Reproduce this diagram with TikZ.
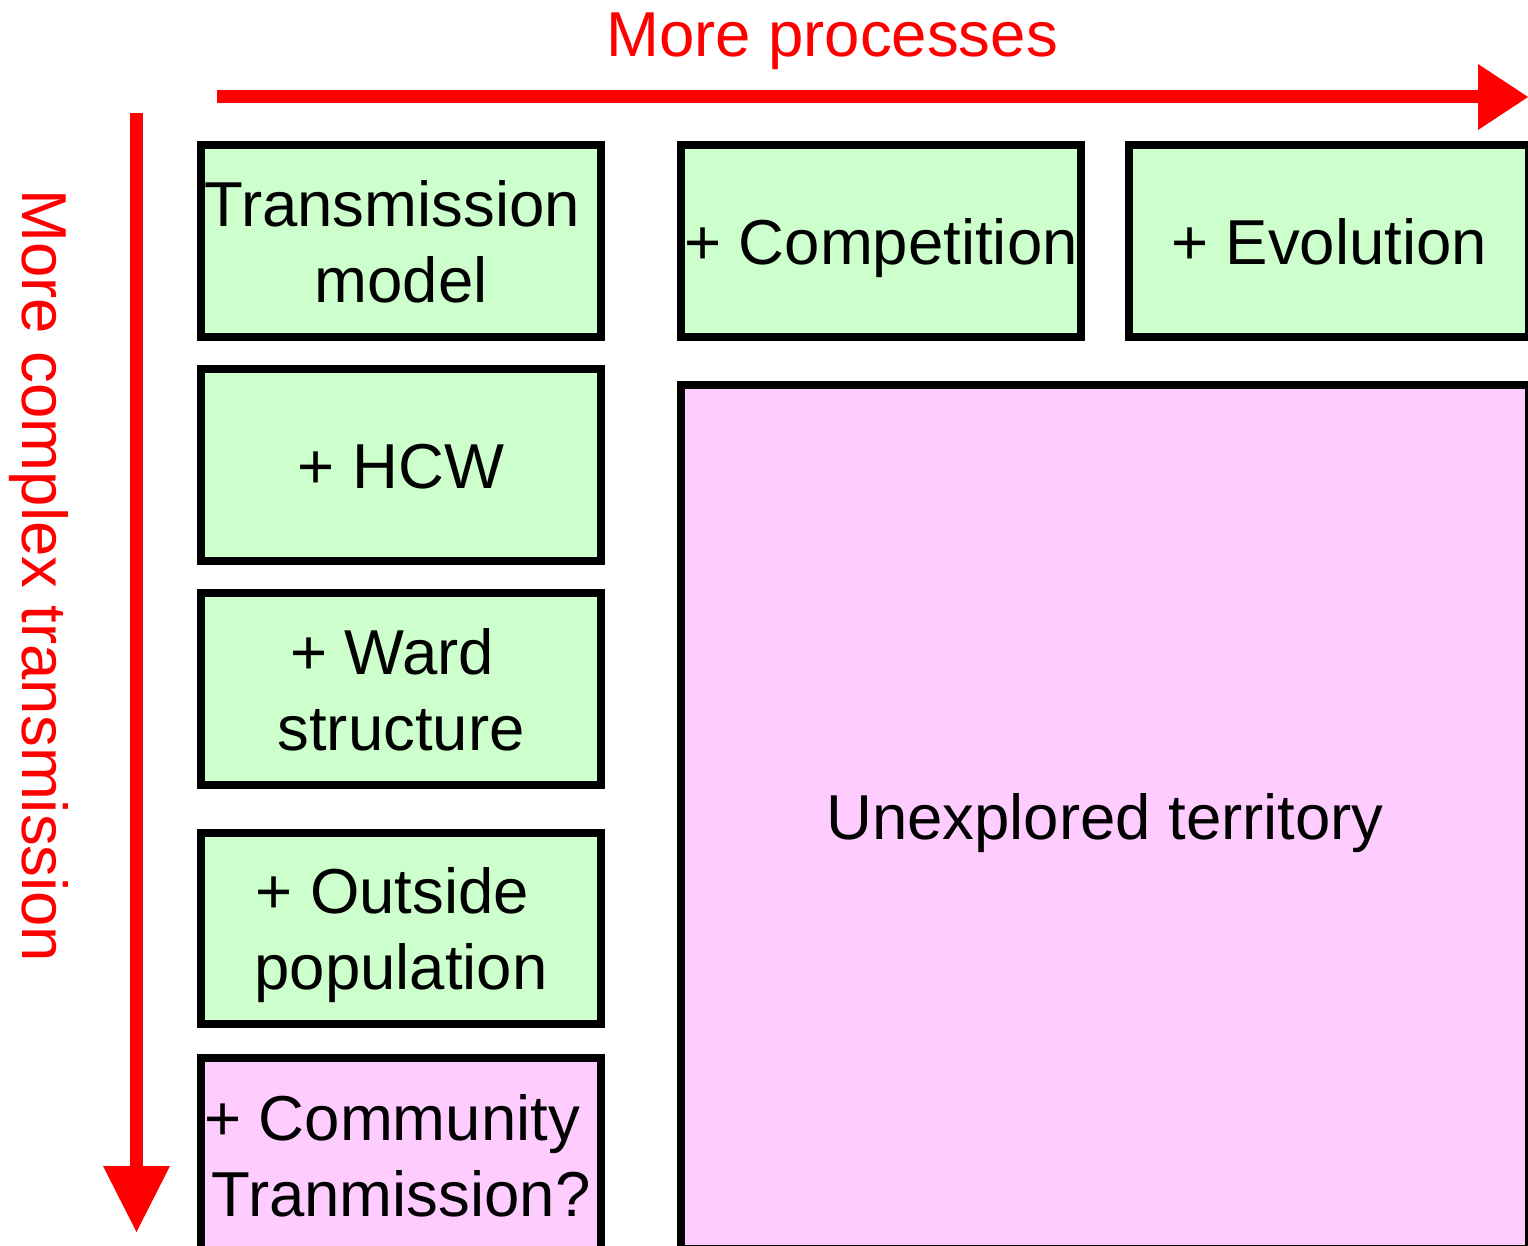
\documentclass[tikz,border=0pt]{standalone}
\usepackage{fontspec}
\setmainfont{Liberation Sans}
\definecolor{boxgreen}{HTML}{CCFFCC}
\definecolor{boxpink}{HTML}{FFCCFF}
\definecolor{axisred}{HTML}{FF0000}
\newcommand\lnstrut{\rule[-15pt]{0pt}{76pt}}
\newcommand\trsp{\kern0.278em}
\begin{document}
\begin{tikzpicture}[x=1pt,y=-1pt,
  every node/.style={font=\fontsize{63.5}{76}\selectfont, inner sep=0pt, outer sep=0pt},
  stage/.style={draw=black, line width=8pt, rectangle, align=center, minimum width=400pt},
  greenbox/.style={stage, fill=boxgreen},
  pinkbox/.style={stage, fill=boxpink},
  axislabel/.style={text=axisred, anchor=base}]
\useasboundingbox (0,0) rectangle (1528,1246);
\clip (0,0) rectangle (1528,1246);
% axes
\fill[axisred] (217,90) rectangle (1478,103);
\fill[axisred] (1478,64) -- (1528,97) -- (1478,130) -- cycle;
\fill[axisred] (130,113) rectangle (143,1166);
\fill[axisred] (103,1166) -- (136.5,1232) -- (170,1166) -- cycle;
\node[axislabel] (proc) at (832,56.7) {More processes};
\node[axislabel, rotate=-90] (compl) at (23,576) {More complex transmission};
% left column
\node[greenbox, minimum height=191.2pt] (tm) at (401,241.1) {\lnstrut Transmission\trsp\\model\lnstrut};
\node[greenbox, minimum height=192pt] (hcw) at (401,465) {\lnstrut + HCW};
\node[greenbox, minimum height=192pt] (ward) at (401,689) {\lnstrut + Ward\trsp\\structure\lnstrut};
\node[greenbox, minimum height=191pt] (out) at (401,928.5) {\lnstrut + Outside\trsp\\population\lnstrut};
\node[pinkbox, minimum height=195pt] (comm) at (401,1155) {\lnstrut + Community\trsp\\Tranmission?\lnstrut};
% top row
\node[greenbox, minimum height=191.2pt] (comp) at (881,241.1) {\lnstrut + Competition};
\node[greenbox, minimum height=191.2pt] (evo) at (1329,241.1) {\lnstrut + Evolution};
% unexplored
\node[pinkbox, minimum width=848pt, minimum height=863.5pt] (unex) at (1105,816.75) {\lnstrut Unexplored territory};
\end{tikzpicture}
\end{document}
